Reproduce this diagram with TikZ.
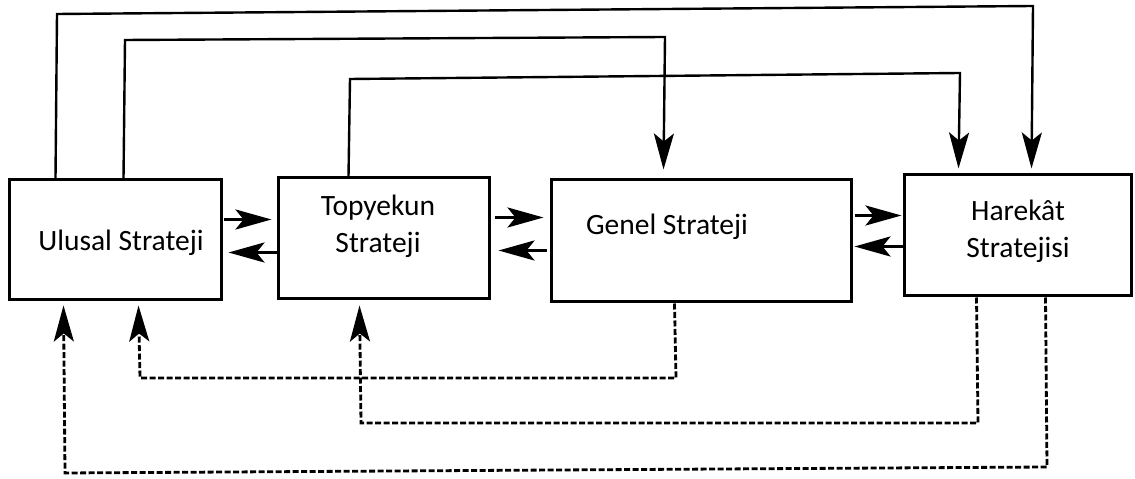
\documentclass[tikz,border=0pt]{standalone}
\usepackage{fontspec}
\setmainfont{Carlito}
\usetikzlibrary{arrows.meta,calc}
\begin{document}
\begin{tikzpicture}[x=1pt,y=1pt,
  box/.style={draw, line width=3pt, inner sep=0pt},
  lbl/.style={align=center, font=\fontsize{29.5}{37}\selectfont, inner sep=0pt},
  link/.style={line width=2.4pt, line join=miter, -{Stealth[length=36pt,width=20pt,inset=8pt]}},
  hlink/.style={line width=3.2pt, -{Stealth[length=36pt,width=20pt,inset=8pt]}},
  dlink/.style={link, line width=2.8pt, dash pattern=on 6pt off 2.5pt}]
\useasboundingbox (0,0) rectangle (1135,479);
\fill[white] (0,0) rectangle (1135,479);

\node[box, minimum width=212pt, minimum height=120pt] (ulu) at (115,239) {};
\node[box, minimum width=211pt, minimum height=121pt] (top) at (383.5,240.5) {};
\node[box, minimum width=300pt, minimum height=122pt] (gen) at (701,238) {};
\node[box, minimum width=227pt, minimum height=121pt] (har) at (1017.5,243.5) {};

\node[lbl] (tulu) at (121,236) {Ulusal Strateji};
\node[lbl] (ttop) at (378,253) {Topyekun\\Strateji};
\node[lbl] (tgen) at (667,252) {Genel Strateji};
\node[lbl] (thar) at (1018,247.5) {Harekât\\Stratejisi};

% top solid connectors
\draw[link] ([xshift=48pt]ulu.north west) -- (57,465) -- (1033,473) -- ($(har.north west)+(129,5)$);
\draw[link] ([xshift=116pt]ulu.north west) -- (125,439) -- (665,442) -- ($(gen.north west)+(114,9)$);
\draw[link] ([xshift=72pt]top.north west) -- (350,400) -- (960,406) -- ($(har.north west)+(56,5)$);

% bottom dashed connectors
\draw[dlink] ([xshift=125pt]gen.south west) -- (676,101) -- (140,101) -- ($(ulu.south west)+(131,-4)$);
\draw[dlink] ([xshift=74pt]har.south west) -- (978,56) -- (361,56) -- ($(top.south west)+(83,-5)$);
\draw[dlink] ([xshift=143pt]har.south west) -- (1047,12) -- (65,6) -- ($(ulu.south west)+(56,-4)$);

% horizontal arrows
\draw[hlink] ($(ulu.north east)+(1,-41)$) -- ($(top.north west)+(-5,-43)$);
\draw[hlink] ($(top.north west)+(0,-76)$) -- ($(ulu.north east)+(6,-74)$);
\draw[hlink] ($(top.north east)+(4,-41)$) -- ($(gen.north west)+(-6,-39)$);
\draw[hlink] ($(gen.north west)+(-3,-72)$) -- ($(top.north east)+(8,-74)$);
\draw[hlink] ($(gen.north east)+(2,-37)$) -- ($(har.north west)+(-1,-42)$);
\draw[hlink] ($(har.north west)+(0,-73)$) -- ($(gen.north east)+(2,-68)$);
\end{tikzpicture}
\end{document}
